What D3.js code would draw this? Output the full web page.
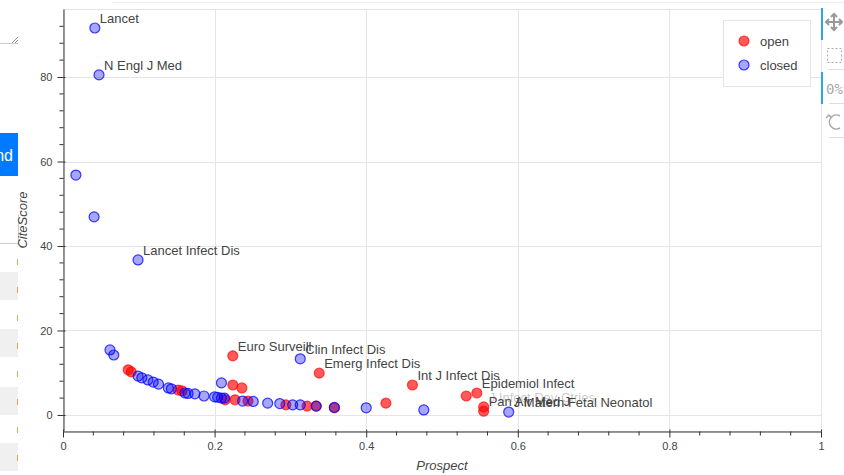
<!DOCTYPE html>
<html lang="en">
<head>
<meta charset="utf-8">
<script src="https://cdn.jsdelivr.net/npm/d3@7"></script>
<style>
body { margin: 0; background: #fff; }
svg { display: block; font-family: Helvetica, Arial, "Liberation Sans", sans-serif; }
</style>
</head>
<body>
<svg id="chart" width="844" height="475"></svg>
<script>
// open access journals
const openProspect = [0.086, 0.090, 0.152, 0.157, 0.214, 0.224, 0.224, 0.236, 0.227, 0.244, 0.294, 0.322, 0.334, 0.358, 0.338, 0.426, 0.461, 0.532, 0.546, 0.555, 0.555];
const openCiteScore = [10.7, 10.2, 5.9, 5.7, 3.6, 14.0, 7.1, 6.4, 3.6, 3.3, 2.4, 2.1, 2.1, 1.7, 9.9, 2.8, 7.1, 4.5, 5.2, 1.9, 0.9];
const openNames = ["", "", "", "", "", "Euro Surveill", "", "", "", "", "", "", "", "", "Emerg Infect Dis", "", "Int J Infect Dis", "", "Epidemiol Infect", "J Infect Dev Ctries", "Pan Afr Med J"];

// closed journals
const closedProspect = [0.042, 0.0475, 0.017, 0.041, 0.099, 0.062, 0.067, 0.313, 0.099, 0.104, 0.112, 0.119, 0.126, 0.139, 0.143, 0.161, 0.165, 0.174, 0.186, 0.200, 0.204, 0.209, 0.213, 0.209, 0.237, 0.251, 0.270, 0.286, 0.303, 0.313, 0.334, 0.358, 0.400, 0.476, 0.588];
const closedCiteScore = [91.6, 80.5, 56.8, 46.9, 36.7, 15.4, 14.2, 13.3, 9.2, 8.8, 8.3, 7.8, 7.3, 6.4, 6.2, 5.2, 5.1, 5.0, 4.5, 4.3, 4.2, 4.0, 4.0, 7.6, 3.3, 3.2, 2.8, 2.7, 2.4, 2.4, 2.1, 1.8, 1.7, 1.2, 0.7];
const closedNames = ["Lancet", "N Engl J Med", "", "", "Lancet Infect Dis", "", "", "Clin Infect Dis", "", "", "", "", "", "", "", "", "", "", "", "", "", "", "", "", "", "", "", "", "", "", "", "", "", "", "J Matern Fetal Neonatol"];

const xTicks = [0, 0.2, 0.4, 0.6, 0.8, 1];
const yTicks = [0, 20, 40, 60, 80];
const legendNames = ["open", "closed"];
const dimLabels = ["J Infect Dev Ctries"];

const svg = d3.select("#chart");
const frame = { left: 63, right: 821, top: 9, bottom: 431 };

const x = d3.scaleLinear().domain([0, 1]).range([frame.left, frame.right]);
const y = d3.scaleLinear().domain([-3.79, 96.1]).range([frame.bottom, frame.top]);

// --- bits of the surrounding page on the left
const side = svg.append("g");
side.append("line").attr("x1", 0).attr("x2", 18).attr("y1", 43.5).attr("y2", 43.5).attr("stroke", "#ccc");
side.append("path").attr("d", "M12,43 L18,37 M15,43 L18,40").attr("stroke", "#999").attr("fill", "none");
side.append("rect").attr("x", 0).attr("y", 133).attr("width", 18).attr("height", 43).attr("fill", "#007bff");
side.append("text").attr("x", 13).attr("y", 161).attr("text-anchor", "end").attr("fill", "#fff")
    .attr("font-size", 16).text("nd");
side.append("path").attr("d", "M0,243.5 H18.5 V215").attr("stroke", "#ccc").attr("fill", "none");
[272, 329, 387, 443].forEach(r => {
    side.append("rect").attr("x", 0).attr("y", r).attr("width", 18).attr("height", 28).attr("fill", "#f0f0f0");
});
d3.range(262, 475, 28).forEach(r => {
    side.append("line").attr("x1", 17.5).attr("x2", 17.5).attr("y1", r - 3).attr("y2", r + 3)
        .attr("stroke", "#e0a060").attr("stroke-width", 1);
});
svg.append("line").attr("x1", 112).attr("x2", 844).attr("y1", 2.5).attr("y2", 2.5).attr("stroke", "#eee");

// --- grid and frame
const grid = svg.append("g").attr("stroke", "#e5e5e5").attr("stroke-width", 1);
xTicks.forEach(t => grid.append("line").attr("x1", Math.round(x(t)) + 0.5).attr("x2", Math.round(x(t)) + 0.5)
    .attr("y1", frame.top).attr("y2", frame.bottom));
yTicks.forEach(t => grid.append("line").attr("y1", Math.round(y(t)) + 0.5).attr("y2", Math.round(y(t)) + 0.5)
    .attr("x1", frame.left).attr("x2", frame.right));
svg.append("rect").attr("x", frame.left + 0.5).attr("y", frame.top + 0.5)
    .attr("width", frame.right - frame.left).attr("height", frame.bottom - frame.top)
    .attr("fill", "none").attr("stroke", "#e5e5e5");

// --- axes
const xMinor = d3.range(0.04, 1, 0.04).filter(v => !xTicks.some(t => Math.abs(t - v) < 1e-6));
const yMinor = d3.range(4, 96, 4).filter(v => !yTicks.includes(v));

const xAxis = svg.append("g").attr("transform", `translate(0,${frame.bottom + 0.5})`)
    .call(d3.axisBottom(x).tickValues(xTicks).tickFormat(d3.format("")).tickSizeInner(6).tickSizeOuter(0).tickPadding(5));
xAxis.selectAll(".tick").append("line").attr("y2", -2).attr("stroke", "currentColor");
xAxis.selectAll(".minor").data(xMinor).join("line").attr("class", "minor")
    .attr("x1", d => x(d)).attr("x2", d => x(d)).attr("y1", 0).attr("y2", 4).attr("stroke", "currentColor");

const yAxis = svg.append("g").attr("transform", `translate(${frame.left + 0.5},0)`)
    .call(d3.axisLeft(y).tickValues(yTicks).tickSizeInner(6).tickSizeOuter(0).tickPadding(5));
yAxis.selectAll(".tick").append("line").attr("x2", 2).attr("stroke", "currentColor");
yAxis.selectAll(".minor").data(yMinor).join("line").attr("class", "minor")
    .attr("y1", d => y(d)).attr("y2", d => y(d)).attr("x1", 0).attr("x2", -4).attr("stroke", "currentColor");

[xAxis, yAxis].forEach(a => {
    a.attr("color", "#333");
    a.selectAll("text").attr("fill", "#444").attr("font-size", 11)
        .style("font-family", "Helvetica, Arial, 'Liberation Sans', sans-serif");
});

svg.append("text").attr("x", (frame.left + frame.right) / 2).attr("y", 470).attr("text-anchor", "middle")
    .attr("font-size", 13).attr("font-style", "italic").attr("fill", "#444").text("Prospect");
svg.append("text").attr("transform", `translate(27,${(frame.top + frame.bottom) / 2}) rotate(-90)`)
    .attr("text-anchor", "middle").attr("font-size", 13).attr("font-style", "italic").attr("fill", "#444").text("CiteScore");

// --- points
const openData = openProspect.map((p, i) => ({ p, c: openCiteScore[i], name: openNames[i] || "" }));
const closedData = closedProspect.map((p, i) => ({ p, c: closedCiteScore[i], name: closedNames[i] || "" }));

const styles = {
    open: { fill: "red", fillOpacity: 0.65, stroke: "red", strokeOpacity: 0.65 },
    closed: { fill: "blue", fillOpacity: 0.35, stroke: "blue", strokeOpacity: 0.75 }
};

function drawPoints(data, st) {
    svg.append("g").selectAll("circle").data(data).join("circle")
        .attr("cx", d => x(d.p)).attr("cy", d => y(d.c)).attr("r", 5)
        .attr("fill", st.fill).attr("fill-opacity", st.fillOpacity)
        .attr("stroke", st.stroke).attr("stroke-opacity", st.strokeOpacity).attr("stroke-width", 1.2);
}
drawPoints(openData, styles.open);
drawPoints(closedData, styles.closed);

// --- labels
const labelled = openData.concat(closedData).filter(d => d.name);
svg.append("g").selectAll("text").data(labelled).join("text")
    .attr("x", d => x(d.p) + 5).attr("y", d => y(d.c) - 5)
    .attr("font-size", 13).attr("fill", "#444")
    .attr("fill-opacity", d => dimLabels.includes(d.name) ? 0.3 : 1)
    .text(d => d.name);

// --- legend
const legend = svg.append("g");
legend.append("rect").attr("x", 723.5).attr("y", 20.5).attr("width", 87).attr("height", 66)
    .attr("fill", "#fff").attr("stroke", "#e5e5e5");
legendNames.forEach((n, i) => {
    const st = styles[n];
    const ly = 41 + i * 24;
    legend.append("circle").attr("cx", 744).attr("cy", ly).attr("r", 5)
        .attr("fill", st.fill).attr("fill-opacity", st.fillOpacity)
        .attr("stroke", st.stroke).attr("stroke-opacity", st.strokeOpacity).attr("stroke-width", 1.2);
    legend.append("text").attr("x", 760).attr("y", ly).attr("dy", "0.35em")
        .attr("font-size", 13).attr("fill", "#444").text(n);
});

// --- toolbar on the right (cut off by the window)
const tb = svg.append("g");
tb.append("rect").attr("x", 821).attr("y", 8).attr("width", 2).attr("height", 32).attr("fill", "#26aae1");
tb.append("rect").attr("x", 821).attr("y", 72).attr("width", 2).attr("height", 32).attr("fill", "#26aae1");
tb.append("path").attr("d", "M834,14 V30 M826,22 H842 M831,17 L834,14 L837,17 M831,27 L834,30 L837,27 M829,19 L826,22 L829,25 M839,19 L842,22 L839,25")
    .attr("stroke", "#999").attr("stroke-width", 2).attr("fill", "none");
tb.append("rect").attr("x", 827.5).attr("y", 48.5).attr("width", 14).attr("height", 14)
    .attr("fill", "none").attr("stroke", "#aaa").attr("stroke-dasharray", "2,2");
tb.append("text").attr("x", 826).attr("y", 94).attr("font-size", 14).attr("fill", "#aaa")
    .style("font-family", "DejaVu Sans Mono, monospace").text("0%");
tb.append("path").attr("d", "M840,116 A7,7 0 1 0 840,128 M826,118 L829,115 L832,118")
    .attr("stroke", "#aaa").attr("stroke-width", 1.5).attr("fill", "none");
[69, 103, 137].forEach(ly => tb.append("line").attr("x1", 829).attr("x2", 844)
    .attr("y1", ly + 0.5).attr("y2", ly + 0.5).attr("stroke", "#ddd"));
</script>
</body>
</html>
